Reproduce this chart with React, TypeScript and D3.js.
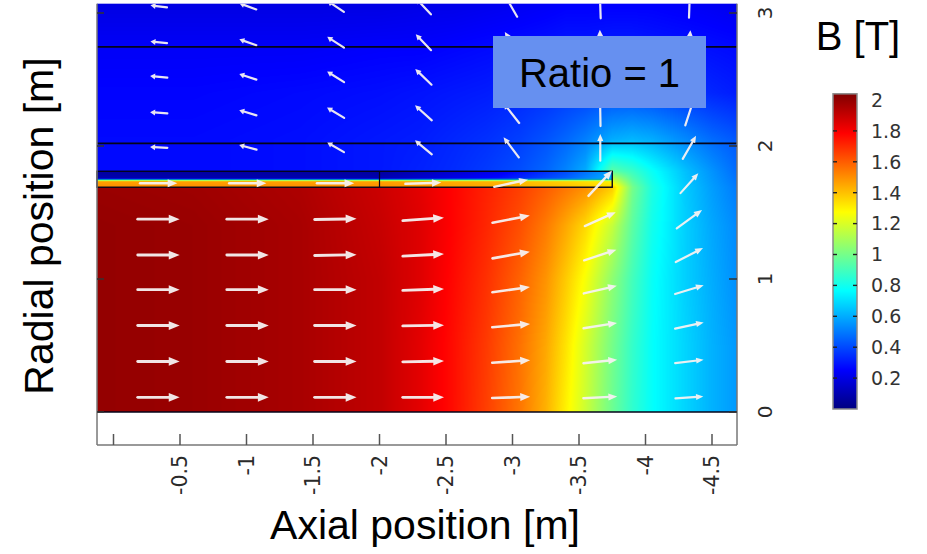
import React, { useMemo } from "react";
import * as d3 from "d3";

const WIDTH = 927;
const HEIGHT = 554;

// ---- axes -------------------------------------------------------------
const axialTicks = [0, -0.5, -1, -1.5, -2, -2.5, -3, -3.5, -4, -4.5];
const axialTickLabels = ["", "-0.5", "-1", "-1.5", "-2", "-2.5", "-3", "-3.5", "-4", "-4.5"];
const radialTicks = [0, 1, 2, 3];
const radialTickLabels = ["0", "1", "2", "3"];
const colorTicks = [0.2, 0.4, 0.6, 0.8, 1, 1.2, 1.4, 1.6, 1.8, 2];
const colorTickLabels = ["0.2", "0.4", "0.6", "0.8", "1", "1.2", "1.4", "1.6", "1.8", "2"];

// model extents [m] and field range [T]
const axialExtent = [0.124, -4.688];
const radialExtent = [0, 3.07];
const radialAxisMin = -0.248;
const bRange = [0, 2.04];

// ---- |B| on a rectilinear grid (rows: radial, cols: axial) --------------
const fieldAxial = [0.124, -0.6, -1.4, -2.0, -2.3, -2.55, -2.8, -3.05, -3.25, -3.4, -3.55, -3.75, -3.9, -4.05, -4.3, -4.5, -4.688];
const fieldRadial = [0, 0.5, 1.0, 1.4, 1.69, 1.81, 2.05, 2.4, 2.75, 3.07];
const fieldB = [
  [2.0, 1.99, 1.96, 1.91, 1.84, 1.76, 1.66, 1.55, 1.43, 1.3, 1.17, 0.98, 0.86, 0.77, 0.68, 0.61, 0.56],
  [2.0, 1.99, 1.96, 1.91, 1.84, 1.76, 1.67, 1.56, 1.45, 1.33, 1.19, 1.0, 0.87, 0.77, 0.68, 0.61, 0.56],
  [2.0, 1.99, 1.96, 1.91, 1.85, 1.77, 1.69, 1.59, 1.49, 1.38, 1.26, 1.05, 0.9, 0.78, 0.67, 0.6, 0.54],
  [2.0, 1.99, 1.96, 1.9, 1.85, 1.78, 1.71, 1.63, 1.54, 1.45, 1.35, 1.16, 0.95, 0.8, 0.67, 0.59, 0.53],
  [1.99, 1.98, 1.95, 1.89, 1.84, 1.78, 1.72, 1.66, 1.6, 1.55, 1.5, 1.38, 1.0, 0.82, 0.66, 0.57, 0.5],
  [0.27, 0.27, 0.28, 0.3, 0.32, 0.34, 0.37, 0.41, 0.46, 0.52, 0.6, 0.95, 0.88, 0.78, 0.64, 0.55, 0.47],
  [0.27, 0.27, 0.28, 0.3, 0.31, 0.33, 0.35, 0.38, 0.42, 0.46, 0.51, 0.6, 0.62, 0.6, 0.53, 0.47, 0.43],
  [0.26, 0.26, 0.27, 0.28, 0.29, 0.3, 0.31, 0.33, 0.35, 0.37, 0.38, 0.4, 0.4, 0.39, 0.36, 0.33, 0.31],
  [0.24, 0.24, 0.24, 0.25, 0.25, 0.26, 0.27, 0.28, 0.29, 0.3, 0.3, 0.31, 0.31, 0.3, 0.29, 0.28, 0.27],
  [0.2, 0.2, 0.2, 0.2, 0.21, 0.21, 0.22, 0.23, 0.24, 0.25, 0.25, 0.25, 0.25, 0.25, 0.24, 0.23, 0.22],
];

// ---- coil winding ------------------------------------------------------
const coilAxialEnd = -3.75;
const coilRadialInner = 1.69;
const coilRadialOuter = 1.81;
const coilRadialSplit = 1.75;
const coilAxialSplit = -2.0;
const coilGridAxial = [0.124, -2.0, -2.9, -3.4, -3.75];
const coilGridRadial = [1.69, 1.735, 1.742, 1.75, 1.757, 1.81];
const coilB = [
  [1.5, 1.5, 1.45, 1.4, 1.35],
  [1.46, 1.46, 1.42, 1.36, 1.3],
  [1.0, 1.0, 1.0, 1.0, 1.0],
  [0.55, 0.55, 0.6, 0.65, 0.7],
  [0.1, 0.1, 0.28, 0.45, 0.62],
  [0.06, 0.06, 0.22, 0.4, 0.58],
];

// domain boundaries in the air region
const boundaryRadial = [2.02, 2.745];

// ---- arrow field (direction in degrees, length in m) --------------------
const arrowAxial = [-0.34, -1.01, -1.67, -2.33, -2.99, -3.66, -4.33];
const arrowRadial = [0.11, 0.38, 0.65, 0.92, 1.18, 1.45, 1.72, 1.99, 2.25, 2.52, 2.78, 3.05];
const arrowAngle = [
  [0, 0, 0, 0, 2, 3, 4],
  [0, 0, 0, 1, 4, 6, 7],
  [0, 0, 0, 1, 5, 9, 12],
  [0, 0, 0, 2, 8, 13, 17],
  [0, 0, 1, 3, 10, 18, 27],
  [0, 0, 1, 4, 11, 24, 36],
  [0, 0, 0, 2, 12, 47, 48],
  [177, 165, 150, 140, 127, 90, 60],
  [176, 163, 149, 138, 128, 91, 72],
  [175, 162, 148, 136, 125, 92, 80],
  [174, 161, 147, 134, 122, 92, 85],
  [173, 160, 146, 133, 120, 92, 88],
];
const arrowLength = [
  [0.315, 0.315, 0.315, 0.31, 0.285, 0.255, 0.21],
  [0.315, 0.315, 0.315, 0.31, 0.285, 0.255, 0.215],
  [0.315, 0.315, 0.315, 0.31, 0.285, 0.255, 0.22],
  [0.315, 0.315, 0.315, 0.31, 0.285, 0.255, 0.225],
  [0.315, 0.315, 0.315, 0.31, 0.285, 0.255, 0.23],
  [0.315, 0.315, 0.315, 0.31, 0.285, 0.255, 0.235],
  [0.28, 0.28, 0.28, 0.27, 0.26, 0.26, 0.2],
  [0.13, 0.135, 0.145, 0.165, 0.19, 0.2, 0.2],
  [0.13, 0.135, 0.15, 0.17, 0.195, 0.2, 0.2],
  [0.13, 0.135, 0.15, 0.17, 0.19, 0.195, 0.195],
  [0.125, 0.135, 0.15, 0.165, 0.18, 0.19, 0.18],
  [0.125, 0.135, 0.15, 0.165, 0.18, 0.18, 0.17],
];

// ---- layout -------------------------------------------------------------
const xScale = d3.scaleLinear().domain([0, -4.5]).range([113.5, 712]);
const yScale = d3.scaleLinear().domain([0, 3]).range([412, 13]);
const cbScale = d3.scaleLinear().domain([0, 2]).range([409, 100]);
const CB_X = 833;
const CB_W = 24;

const JET_STOPS = [0, 0.125, 0.375, 0.625, 0.875, 1];
const JET_COLORS = ["#000080", "#0000ff", "#00ffff", "#ffff00", "#ff0000", "#800000"];
const jet = d3
  .scaleLinear<string>()
  .domain(JET_STOPS.map((t) => bRange[0] + t * (bRange[1] - bRange[0])))
  .range(JET_COLORS)
  .interpolate(d3.interpolateRgb)
  .clamp(true);

const LUT_N = 512;
const jetLut: number[][] = d3.range(LUT_N).map((i) => {
  const c = d3.rgb(jet(bRange[0] + (i / (LUT_N - 1)) * (bRange[1] - bRange[0])));
  return [c.r, c.g, c.b];
});

function locate(nodes: number[], v: number): [number, number] {
  const n = nodes.length;
  const asc = nodes[n - 1] > nodes[0];
  for (let i = 0; i < n - 1; i++) {
    const a = nodes[i];
    const b = nodes[i + 1];
    const inside = asc ? v <= b : v >= b;
    if (inside || i === n - 2) {
      const t = Math.max(0, Math.min(1, (v - a) / (b - a)));
      return [i, t];
    }
  }
  return [0, 0];
}

// Shade a grid of |B| values into a bitmap covering the given model rectangle.
function shadeGrid(
  gx: number[],
  gy: number[],
  vals: number[][],
  a0: number,
  a1: number,
  r0: number,
  r1: number
) {
  const x0 = xScale(a0);
  const x1 = xScale(a1);
  const y0 = yScale(r1);
  const y1 = yScale(r0);
  const w = Math.max(1, Math.round(x1 - x0));
  const h = Math.max(1, Math.round(y1 - y0));
  const canvas = document.createElement("canvas");
  canvas.width = w;
  canvas.height = h;
  const ctx = canvas.getContext("2d")!;
  const img = ctx.createImageData(w, h);
  const span = bRange[1] - bRange[0];
  for (let py = 0; py < h; py++) {
    const r = yScale.invert(y0 + ((py + 0.5) * (y1 - y0)) / h);
    const [j, ty] = locate(gy, r);
    for (let px = 0; px < w; px++) {
      const a = xScale.invert(x0 + ((px + 0.5) * (x1 - x0)) / w);
      const [i, tx] = locate(gx, a);
      const lo = vals[j][i] * (1 - tx) + vals[j][i + 1] * tx;
      const hi = vals[j + 1][i] * (1 - tx) + vals[j + 1][i + 1] * tx;
      const v = lo * (1 - ty) + hi * ty;
      const k = Math.max(0, Math.min(LUT_N - 1, Math.round(((v - bRange[0]) / span) * (LUT_N - 1))));
      const c = jetLut[k];
      const o = (py * w + px) * 4;
      img.data[o] = c[0];
      img.data[o + 1] = c[1];
      img.data[o + 2] = c[2];
      img.data[o + 3] = 255;
    }
  }
  ctx.putImageData(img, 0, 0);
  return { href: canvas.toDataURL(), x: x0, y: y0, w: x1 - x0, h: y1 - y0 };
}

const SANS = "'Liberation Sans', Arial, Helvetica, sans-serif";
const TICK_FONT = "'DejaVu Sans', Verdana, sans-serif";

export default function App() {
  const field = useMemo(
    () => shadeGrid(fieldAxial, fieldRadial, fieldB, axialExtent[0], axialExtent[1], radialExtent[0], radialExtent[1]),
    []
  );
  const coil = useMemo(
    () => shadeGrid(coilGridAxial, coilGridRadial, coilB, axialExtent[0], coilAxialEnd, coilRadialInner, coilRadialOuter),
    []
  );

  const plotLeft = xScale(axialExtent[0]);
  const plotRight = xScale(axialExtent[1]);
  const plotTop = yScale(radialExtent[1]);
  const fieldBottom = yScale(radialExtent[0]);
  const frameBottom = yScale(radialAxisMin);
  const pxPerM = Math.abs(xScale(1) - xScale(0));

  const arrows: { d: string; head: string; sw: number; key: string }[] = [];
  arrowRadial.forEach((r, j) => {
    arrowAxial.forEach((a, i) => {
      const L = arrowLength[j][i] * pxPerM;
      const rad = (arrowAngle[j][i] * Math.PI) / 180;
      const ux = Math.cos(rad);
      const uy = -Math.sin(rad);
      const cx = xScale(a);
      const cy = yScale(r);
      const tx = cx - (ux * L) / 2;
      const ty = cy - (uy * L) / 2;
      const hx = cx + (ux * L) / 2;
      const hy = cy + (uy * L) / 2;
      const hl = Math.max(5, L * 0.26);
      const hw = Math.max(3, L * 0.105);
      const bx = hx - ux * hl;
      const by = hy - uy * hl;
      const nx = -uy;
      const ny = ux;
      arrows.push({
        key: `${i}-${j}`,
        d: `M${tx},${ty}L${bx + ux * 1},${by + uy * 1}`,
        head: `M${hx},${hy}L${bx + nx * hw},${by + ny * hw}L${bx - nx * hw},${by - ny * hw}Z`,
        sw: Math.max(2.2, L * 0.07),
      });
    });
  });

  return (
    <svg
      width={WIDTH}
      height={HEIGHT}
      viewBox={`0 0 ${WIDTH} ${HEIGHT}`}
      style={{ position: "absolute", left: 0, top: 0, background: "#fff" }}
    >
      <defs>
        <clipPath id="plot-clip">
          <rect x={plotLeft} y={plotTop} width={plotRight - plotLeft} height={fieldBottom - plotTop} />
        </clipPath>
        <linearGradient id="jet-bar" x1="0" y1="1" x2="0" y2="0">
          {JET_STOPS.map((t, i) => (
            <stop key={i} offset={t} stopColor={JET_COLORS[i]} />
          ))}
        </linearGradient>
        <filter id="soft" x="-10%" y="-10%" width="120%" height="120%">
          <feGaussianBlur stdDeviation="0.45" />
        </filter>
      </defs>
      <rect width={WIDTH} height={HEIGHT} fill="#fff" />

      {/* |B| surface */}
      <image
        href={field.href}
        x={field.x}
        y={field.y}
        width={field.w}
        height={field.h}
        preserveAspectRatio="none"
      />
      {/* coil winding */}
      <image href={coil.href} x={coil.x} y={coil.y} width={coil.w} height={coil.h} preserveAspectRatio="none" />

      {/* geometry edges */}
      <g stroke="#05051a" fill="none">
        {boundaryRadial.map((r) => (
          <line key={r} x1={plotLeft} x2={plotRight} y1={yScale(r)} y2={yScale(r)} strokeWidth={1.6} />
        ))}
        <rect
          x={plotLeft}
          y={yScale(coilRadialOuter)}
          width={xScale(coilAxialEnd) - plotLeft}
          height={yScale(coilRadialInner) - yScale(coilRadialOuter)}
          strokeWidth={1.4}
        />
        <line
          x1={plotLeft}
          x2={xScale(coilAxialEnd)}
          y1={yScale(coilRadialSplit)}
          y2={yScale(coilRadialSplit)}
          strokeWidth={0.8}
          strokeOpacity={0.45}
        />
        <line
          x1={xScale(coilAxialSplit)}
          x2={xScale(coilAxialSplit)}
          y1={yScale(coilRadialOuter)}
          y2={yScale(coilRadialInner)}
          strokeWidth={1.2}
        />
        <line x1={plotLeft} x2={plotRight} y1={fieldBottom} y2={fieldBottom} strokeWidth={1.4} />
      </g>

      {/* arrows */}
      <g clipPath="url(#plot-clip)">
        <g fill="#f6f2f2" stroke="#f6f2f2" opacity={0.95} filter="url(#soft)">
          {arrows.map((ar) => (
            <g key={ar.key}>
              <path d={ar.d} strokeWidth={ar.sw} strokeLinecap="round" fill="none" />
              <path d={ar.head} stroke="none" />
            </g>
          ))}
        </g>
      </g>

      {/* frame */}
      <g stroke="#777" strokeWidth={1.5} fill="none">
        <line x1={plotLeft} x2={plotLeft} y1={plotTop} y2={frameBottom} />
        <line x1={plotRight} x2={plotRight} y1={plotTop} y2={frameBottom} />
        <line x1={plotLeft} x2={plotRight} y1={frameBottom} y2={frameBottom} />
      </g>

      {/* axial ticks */}
      <g stroke="#555" strokeWidth={1.5}>
        {axialTicks.map((t) => (
          <line key={t} x1={xScale(t)} x2={xScale(t)} y1={frameBottom} y2={frameBottom - 11} />
        ))}
      </g>
      <g fontFamily={TICK_FONT} fontSize={20.5} fill="#2a2a2a">
        {axialTicks.map((t, i) => (
          <text
            key={t}
            transform={`translate(${xScale(t)},${frameBottom + 10}) rotate(-90)`}
            textAnchor="end"
            dy="0.36em"
          >
            {axialTickLabels[i]}
          </text>
        ))}
      </g>

      {/* radial ticks */}
      <g stroke="#333" strokeWidth={1.5}>
        {radialTicks.map((t) => (
          <g key={t}>
            <line x1={plotRight} x2={plotRight - 8} y1={yScale(t)} y2={yScale(t)} />
            <line x1={plotLeft} x2={plotLeft + 7} y1={yScale(t)} y2={yScale(t)} />
          </g>
        ))}
      </g>
      <g fontFamily={TICK_FONT} fontSize={20} fill="#2a2a2a">
        {radialTicks.map((t, i) => (
          <text
            key={t}
            transform={`translate(765,${yScale(t)}) rotate(-90)`}
            textAnchor="middle"
            dy="0.36em"
          >
            {radialTickLabels[i]}
          </text>
        ))}
      </g>

      {/* axis titles */}
      <text x={425} y={539} textAnchor="middle" fontFamily={SANS} fontSize={41} fill="#000">
        Axial position [m]
      </text>
      <text
        transform={`translate(53,226) rotate(-90)`}
        textAnchor="middle"
        fontFamily={SANS}
        fontSize={41}
        fill="#000"
      >
        Radial position [m]
      </text>

      {/* annotation */}
      <rect x={493} y={36} width={213} height={72} fill="#6690f0" />
      <text x={599.5} y={87} textAnchor="middle" fontFamily={SANS} fontSize={40} fill="#000">
        Ratio = 1
      </text>

      {/* colour legend */}
      <text x={858} y={50} textAnchor="middle" fontFamily={SANS} fontSize={40} fill="#000">
        B [T]
      </text>
      <rect
        x={CB_X}
        y={cbScale(bRange[1])}
        width={CB_W}
        height={cbScale(bRange[0]) - cbScale(bRange[1])}
        fill="url(#jet-bar)"
        stroke="#8a8a8a"
        strokeWidth={1.5}
      />
      <g stroke="#222" strokeWidth={1.4}>
        {colorTicks.slice(0, -1).map((t) => (
          <g key={t}>
            <line x1={CB_X} x2={CB_X + 4} y1={cbScale(t)} y2={cbScale(t)} />
            <line x1={CB_X + CB_W - 4} x2={CB_X + CB_W} y1={cbScale(t)} y2={cbScale(t)} />
          </g>
        ))}
      </g>
      <g fontFamily={TICK_FONT} fontSize={19} fill="#333">
        {colorTicks.map((t, i) => (
          <text key={t} x={871} y={cbScale(t)} dy="0.36em">
            {colorTickLabels[i]}
          </text>
        ))}
      </g>
    </svg>
  );
}
